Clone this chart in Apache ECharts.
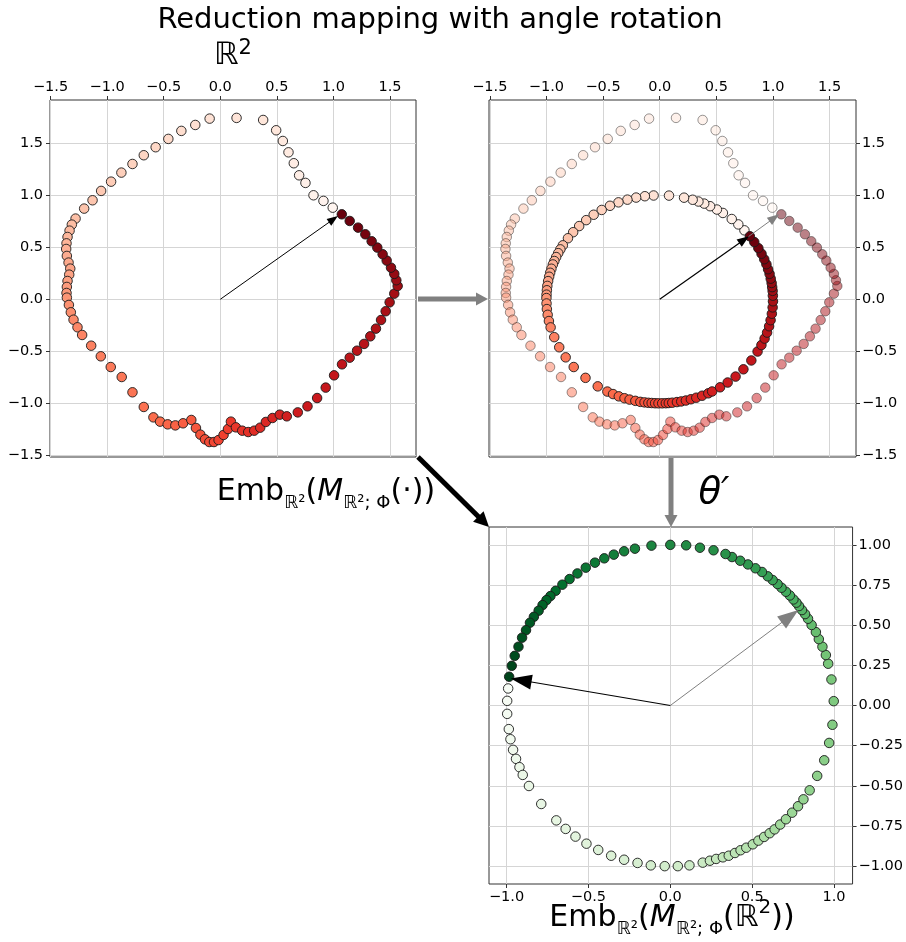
<!DOCTYPE html>
<html><head><meta charset="utf-8">
<script src="https://cdn.jsdelivr.net/npm/echarts@6/dist/echarts.min.js"></script>
<style>html,body{margin:0;padding:0;background:#fff}#c{width:906px;height:942px}</style>
</head><body><div id="c"></div>
<script>
// ---- data ----
const redX = [0.994,0.912,0.824,0.753,0.697,0.650,0.603,0.553,0.494,0.379,
 0.144,-0.094,-0.221,-0.344,-0.459,-0.571,-0.676,-0.776,-0.874,-0.965,
 -1.053,-1.129,-1.203,-1.279,-1.312,-1.332,-1.350,-1.359,-1.362,-1.356,
 -1.341,-1.326,-1.335,-1.350,-1.356,-1.359,-1.356,-1.338,-1.321,-1.297,
 -1.262,-1.221,-1.141,-1.056,-0.968,-0.871,-0.776,-0.676,-0.591,-0.532,
 -0.465,-0.397,-0.329,-0.256,-0.215,-0.176,-0.135,-0.097,-0.056,-0.015,
 0.029,0.068,0.094,0.138,0.194,0.247,0.300,0.353,0.403,0.462,
 0.526,0.588,0.685,0.771,0.856,0.932,1.006,1.076,1.144,1.209,
 1.271,1.326,1.376,1.421,1.462,1.497,1.538,1.568,1.556,1.538,
 1.509,1.471,1.435,1.388,1.338,1.282,1.218,1.144,1.074];
const redY = [0.881,0.946,1.000,1.119,1.192,1.308,1.413,1.522,1.625,1.724,
 1.744,1.737,1.676,1.619,1.542,1.462,1.385,1.301,1.218,1.131,
 1.042,0.952,0.872,0.776,0.718,0.660,0.599,0.538,0.484,0.417,
 0.353,0.295,0.237,0.176,0.119,0.061,0.016,-0.054,-0.125,-0.196,
 -0.269,-0.343,-0.446,-0.548,-0.651,-0.747,-0.894,-1.035,-1.135,-1.176,
 -1.202,-1.212,-1.192,-1.160,-1.237,-1.301,-1.346,-1.372,-1.372,-1.353,
 -1.304,-1.247,-1.176,-1.231,-1.263,-1.276,-1.263,-1.234,-1.179,-1.141,
 -1.109,-1.125,-1.087,-1.029,-0.949,-0.849,-0.731,-0.625,-0.561,-0.494,
 -0.429,-0.356,-0.282,-0.199,-0.115,-0.029,0.054,0.128,0.183,0.244,
 0.304,0.372,0.433,0.497,0.558,0.625,0.689,0.753,0.817];
const unitX = [0.748,0.694,0.636,0.558,0.505,0.445,0.393,0.342,0.291,0.215,
 0.082,-0.054,-0.131,-0.208,-0.285,-0.364,-0.439,-0.512,-0.583,-0.649,
 -0.711,-0.764,-0.810,-0.855,-0.877,-0.896,-0.914,-0.930,-0.943,-0.956,
 -0.967,-0.976,-0.985,-0.992,-0.996,-0.999,-1.000,-0.999,-0.996,-0.989,
 -0.978,-0.963,-0.931,-0.887,-0.830,-0.759,-0.655,-0.547,-0.462,-0.412,
 -0.361,-0.311,-0.266,-0.215,-0.171,-0.134,-0.100,-0.071,-0.041,-0.011,
 0.022,0.054,0.080,0.111,0.152,0.190,0.231,0.275,0.323,0.375,
 0.429,0.463,0.533,0.600,0.670,0.739,0.809,0.864,0.898,0.926,
 0.948,0.966,0.979,0.990,0.997,1.000,0.999,0.997,0.993,0.988,
 0.980,0.970,0.957,0.942,0.923,0.899,0.871,0.835,0.796];
const unitY = [0.663,0.720,0.772,0.830,0.863,0.895,0.920,0.940,0.957,0.977,
 0.997,0.998,0.991,0.978,0.958,0.932,0.899,0.859,0.813,0.761,
 0.704,0.645,0.587,0.519,0.480,0.444,0.406,0.368,0.335,0.294,
 0.255,0.217,0.175,0.129,0.087,0.045,0.012,-0.040,-0.094,-0.149,
 -0.209,-0.270,-0.364,-0.461,-0.558,-0.651,-0.755,-0.837,-0.887,-0.911,
 -0.933,-0.951,-0.964,-0.976,-0.986,-0.991,-0.995,-0.997,-0.999,-1.000,
 -1.000,-0.999,-0.997,-0.994,-0.988,-0.982,-0.973,-0.961,-0.946,-0.927,
 -0.904,-0.886,-0.846,-0.800,-0.743,-0.673,-0.588,-0.502,-0.440,-0.378,
 -0.320,-0.259,-0.201,-0.139,-0.078,-0.019,0.035,0.081,0.117,0.157,
 0.198,0.245,0.289,0.337,0.385,0.438,0.492,0.550,0.606];
const greenX = [-0.990,-0.996,-0.996,-0.986,-0.976,-0.960,-0.942,-0.921,-0.901,-0.863,
 -0.788,-0.696,-0.639,-0.579,-0.512,-0.440,-0.361,-0.282,-0.200,-0.119,
 -0.034,0.046,0.117,0.198,0.242,0.280,0.321,0.357,0.395,0.429,
 0.464,0.504,0.538,0.573,0.607,0.637,0.671,0.706,0.744,0.780,
 0.813,0.851,0.897,0.940,0.970,0.990,0.998,0.984,0.964,0.950,
 0.929,0.907,0.889,0.863,0.841,0.823,0.804,0.786,0.770,0.752,
 0.730,0.706,0.679,0.655,0.625,0.595,0.560,0.520,0.474,0.427,
 0.377,0.337,0.264,0.181,0.097,0.000,-0.115,-0.216,-0.282,-0.345,
 -0.403,-0.460,-0.516,-0.567,-0.615,-0.659,-0.700,-0.732,-0.756,-0.780,
 -0.804,-0.833,-0.857,-0.881,-0.905,-0.927,-0.950,-0.968,-0.984];
const greenY = [0.106,0.029,-0.052,-0.147,-0.210,-0.276,-0.332,-0.384,-0.432,-0.501,
 -0.613,-0.715,-0.768,-0.816,-0.860,-0.899,-0.935,-0.960,-0.980,-0.995,
 -1.000,-1.000,-0.995,-0.978,-0.966,-0.955,-0.945,-0.935,-0.918,-0.901,
 -0.885,-0.864,-0.841,-0.818,-0.795,-0.771,-0.741,-0.708,-0.667,-0.627,
 -0.584,-0.528,-0.438,-0.341,-0.233,-0.120,0.027,0.162,0.260,0.314,
 0.366,0.413,0.457,0.501,0.540,0.569,0.594,0.619,0.640,0.660,
 0.685,0.708,0.733,0.756,0.781,0.804,0.831,0.854,0.878,0.901,
 0.924,0.943,0.966,0.982,0.997,1.000,0.995,0.976,0.960,0.939,
 0.916,0.889,0.858,0.822,0.787,0.752,0.714,0.681,0.656,0.625,
 0.590,0.552,0.515,0.469,0.422,0.366,0.309,0.247,0.179];

const topTicks = [-1.5,-1.0,-0.5,0.0,0.5,1.0,1.5];
const botXTicks = [-1.0,-0.5,0.0,0.5,1.0];
const botYTicks = [-1.0,-0.75,-0.5,-0.25,0.0,0.25,0.5,0.75,1.0];

// arrow annotations (data space): [from, to]
const arrowTL = [[0,0],[1.00,0.77]];
const arrowTRblack = [[0,0],[0.745,0.573]];
const arrowTRgray = [[0.78,0.60],[1.012,0.783]];
const arrowBgray = [[0,0],[0.731,0.555]];
const arrowBblack = [[0,0],[-0.911,0.157]];

// ---- colormaps ----
const REDS = ['#fff5f0','#fee0d2','#fcbba1','#fc9272','#fb6a4a','#ef3b2c','#cb181d','#a50f15','#67000d'];
const GREENS = ['#f7fcf5','#e5f5e0','#c7e9c0','#a1d99b','#74c476','#41ab5d','#238b45','#006d2c','#00441b'];
function hex2rgb(h){return [parseInt(h.substr(1,2),16),parseInt(h.substr(3,2),16),parseInt(h.substr(5,2),16)];}
function cmap(stops,t){
  t=Math.max(0,Math.min(1,t));
  const p=t*(stops.length-1), i=Math.min(Math.floor(p),stops.length-2), f=p-i;
  const a=hex2rgb(stops[i]), b=hex2rgb(stops[i+1]);
  return 'rgb('+a.map((v,k)=>Math.round(v+(b[k]-v)*f)).join(',')+')';
}
const zip=(xs,ys)=>xs.map((x,i)=>[x,ys[i]]);

const FONT='"DejaVu Sans", sans-serif';
const fmt1=v=>(v<0?'\u2212':'')+Math.abs(v).toFixed(1);
const fmt2=v=>(v<0?'\u2212':'')+Math.abs(v).toFixed(2);

function ax(grid,min,max,ticks,pos,fmt,margin){
  return {type:'value',gridIndex:grid,min:min,max:max,position:pos,
    axisLine:{show:false,onZero:false},
    axisTick:{show:true,inside:false,length:4,lineStyle:{color:'#333',width:1},customValues:ticks},
    axisLabel:{show:true,customValues:ticks,formatter:fmt,fontFamily:FONT,fontSize:14.5,color:'#000',margin:margin},
    splitLine:{show:true,lineStyle:{color:'#d5d5d5',width:1}}};
}

function arrowPair(from,to,color,w,size){
  const ls={color:color,width:w,type:'solid',opacity:1};
  return [{coord:from,symbol:'none',lineStyle:ls},{coord:to,symbol:'triangle',symbolSize:size,itemStyle:{color:color},lineStyle:ls}];
}
function markLines(pairs){
  return {silent:true,animation:false,label:{show:false},emphasis:{disabled:true},
    lineStyle:{type:'solid'},data:pairs};
}

function scatter(xi,yi,data,stops,opacity){
  const n=data.length;
  return {type:'scatter',xAxisIndex:xi,yAxisIndex:yi,data:data,symbol:'circle',symbolSize:9.5,
    silent:true,animation:false,
    itemStyle:{color:p=>cmap(stops,p.dataIndex/(n-1)),borderColor:'#1a1a1a',borderWidth:0.9,opacity:opacity}};
}

// layout of the three panels (pixels)
const G=[{left:50,top:100,width:366,height:357},{left:489,top:100,width:367,height:357},{left:489,top:527,width:367,height:357}];

function bigArrow(x1,y1,x2,y2,color,lw,hl,hw){
  const dx=x2-x1, dy=y2-y1, L=Math.hypot(dx,dy), ux=dx/L, uy=dy/L;
  const bx=x2-ux*hl, by=y2-uy*hl, px=-uy, py=ux;
  return [
    {type:'line',silent:true,shape:{x1:x1,y1:y1,x2:bx+ux*1,y2:by+uy*1},style:{stroke:color,lineWidth:lw}},
    {type:'polygon',silent:true,shape:{points:[[x2,y2],[bx+px*hw/2,by+py*hw/2],[bx-px*hw/2,by-py*hw/2]]},style:{fill:color}}
  ];
}

const mathRich={
  a:{fontFamily:FONT,fontSize:30,lineHeight:40,color:'#000'},
  i:{fontFamily:FONT,fontSize:30,fontStyle:'italic',lineHeight:40,color:'#000'},
  s:{fontFamily:FONT,fontSize:18,lineHeight:18,verticalAlign:'bottom',color:'#000'},
  p:{fontFamily:FONT,fontSize:20,lineHeight:20,verticalAlign:'top',color:'#000'}
};

const graphics=[
  {type:'text',x:440,y:20,silent:true,style:{text:'Reduction mapping with angle rotation',font:'29px '+FONT,fill:'#000',textAlign:'center',textVerticalAlign:'middle'}},
  {type:'text',x:233,y:56,silent:true,style:{text:'{r|\u211D}{p|2}',textAlign:'center',textVerticalAlign:'middle',
     rich:{r:{fontFamily:FONT,fontSize:31,lineHeight:36,color:'#000'},p:{fontFamily:FONT,fontSize:21,lineHeight:21,verticalAlign:'top',color:'#000'}}}},
  {type:'text',x:326,y:492,silent:true,style:{text:'{a|Emb}{s|\u211D\u00B2}{a|(}{i|M}{s|\u211D\u00B2; \u03A6}{a|(\u00B7))}',textAlign:'center',textVerticalAlign:'middle',rich:mathRich}},
  {type:'text',x:672,y:918,silent:true,style:{text:'{a|Emb}{s|\u211D\u00B2}{a|(}{i|M}{s|\u211D\u00B2; \u03A6}{a|(\u211D}{p|2}{a|))}',textAlign:'center',textVerticalAlign:'middle',rich:mathRich}},
  {type:'text',x:714,y:493,silent:true,style:{text:'\u03B8\u2032',font:'italic 37px '+FONT,fill:'#000',textAlign:'center',textVerticalAlign:'middle'}}
].concat(
  bigArrow(418,299,488,299,'#808080',5,12,13),
  bigArrow(671,458,671,527,'#808080',5,12,13),
  bigArrow(418,457,489,527,'#000',5,15,15)
);

const option={
  animation:false,
  backgroundColor:'#fff',
  grid:G.map(g=>Object.assign({show:true,borderColor:'#333',borderWidth:1,backgroundColor:'transparent',containLabel:false},g)),
  xAxis:[
    ax(0,-1.505,1.73,topTicks,'top',fmt1,5),
    ax(1,-1.507,1.733,topTicks,'top',fmt1,5),
    ax(2,-1.107,1.113,botXTicks,'bottom',fmt1,6)
  ],
  yAxis:[
    ax(0,-1.516,1.916,topTicks,'left',fmt1,7),
    ax(1,-1.516,1.916,topTicks,'right',fmt1,6),
    ax(2,-1.111,1.111,botYTicks,'right',fmt2,6)
  ],
  graphic:graphics,
  series:[
    Object.assign(scatter(0,0,zip(redX,redY),REDS,1),{markLine:markLines([arrowPair(arrowTL[0],arrowTL[1],'#000',1,[8,11])])}),
    scatter(1,1,zip(redX,redY),REDS,0.5),
    Object.assign(scatter(1,1,zip(unitX,unitY),REDS,1),{markLine:markLines([
      arrowPair(arrowTRgray[0],arrowTRgray[1],'#808080',1,[9,12]),
      arrowPair(arrowTRblack[0],arrowTRblack[1],'#000',1.2,[9,12])])}),
    Object.assign(scatter(2,2,zip(greenX,greenY),GREENS,1),{markLine:markLines([
      arrowPair(arrowBgray[0],arrowBgray[1],'#808080',1,[15,21]),
      arrowPair(arrowBblack[0],arrowBblack[1],'#000',1.2,[15,21])])})
  ]
};
const chart=echarts.init(document.getElementById('c'),null,{renderer:'canvas'});
chart.setOption(option);
</script>
</body></html>
